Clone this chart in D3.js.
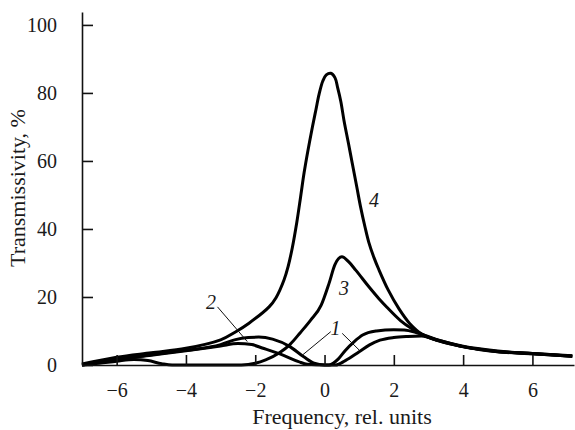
<!DOCTYPE html>
<html>
<head>
<meta charset="utf-8">
<script src="https://cdn.jsdelivr.net/npm/d3@7"></script>
<style>
  html, body { margin: 0; padding: 0; background: #fff; }
  svg { display: block; }
  text { font-family: "Liberation Serif", "Times New Roman", serif; fill: #1a1a1a; }
</style>
</head>
<body>
<svg id="chart" width="575" height="430"></svg>
<script>
// ---- data ----
const xTicks = [-6, -4, -2, 0, 2, 4, 6];
const yTicks = [0, 20, 40, 60, 80, 100];
const xLabel = "Frequency, rel. units";
const yLabel = "Transmissivity, %";

const curve1X = [-7, -6, -5, -4, -3, -2.6, -2.2, -1.9, -1.5, -1.0, -0.6, -0.3, 0, 0.32, 0.6, 1.0, 1.3, 1.6, 2.0, 2.4, 2.8, 3.3, 4.0, 5.0, 6.0, 7.15];
const curve1Y = [0, 1.7, 3.0, 4.3, 6.0, 7.4, 8.1, 8.2, 7.6, 5.4, 2.4, 0.5, 0, 0, 1.3, 3.9, 5.9, 7.3, 8.1, 8.4, 8.5, 7.2, 5.4, 4.0, 3.3, 2.6];

const curve2X = [-7, -6, -5, -4, -3, -2.5, -2.1, -1.8, -1.2, -0.75, -0.5, 0, 0.13, 0.4, 0.6, 0.85, 1.1, 1.5, 2.0, 2.3, 2.6, 2.9, 3.3, 4.0, 5.0, 6.0, 7.15];
const curve2Y = [0, 1.6, 2.9, 4.2, 5.6, 6.3, 6.0, 5.0, 2.9, 1.0, 0.2, 0, 0, 1.8, 4.3, 6.8, 8.8, 10.0, 10.4, 10.3, 9.7, 8.7, 7.3, 5.5, 4.1, 3.4, 2.7];

const curve3X = [-7, -6.5, -6, -5.5, -5.1, -4.7, -4.4, -2.4, -2.0, -1.7, -1.3, -1.0, -0.7, -0.4, -0.1, 0.13, 0.3, 0.5, 0.7, 0.9, 1.28, 1.57, 1.8, 2.2, 2.5, 2.85, 3.3, 4.0, 5.0, 6.0, 7.15];
const curve3Y = [0, 0.5, 1.1, 1.6, 1.3, 0.4, 0, 0, 0.5, 1.5, 3.6, 6.0, 9.5, 13.2, 17.5, 24, 29.5, 31.8, 30.3, 27.9, 23, 19.5, 17, 13, 10.8, 8.8, 7.1, 5.4, 3.9, 3.3, 2.6];

const curve4X = [-7, -6, -5, -4, -3, -2.56, -2.18, -1.6, -1.4, -1.17, -1.05, -0.93, -0.8, -0.69, -0.59, -0.48, -0.35, -0.25, -0.16, -0.05, 0.05, 0.18, 0.3, 0.38, 0.47, 0.56, 0.69, 0.8, 0.93, 1.04, 1.17, 1.28, 1.43, 1.57, 1.84, 2.15, 2.45, 2.82, 3.3, 3.97, 4.5, 5.0, 6.0, 7.15];
const curve4Y = [0.3, 2.3, 3.6, 4.9, 7.4, 9.8, 12.3, 17.1, 19.8, 25, 29, 34.5, 42, 49.5, 56.5, 63, 70, 75, 79.5, 83.5, 85.3, 85.8, 84.5, 81.5, 77.5, 72, 65.2, 59.3, 52.4, 46.5, 40.5, 36, 31.5, 28, 22, 16.5, 12.3, 9.0, 7.1, 5.4, 4.5, 3.9, 3.4, 2.6];

// curve labels (data coordinates) and their leader lines
const curveLabels = ["1", "2", "3", "4"];
const labelX = [0.32, -3.28, 0.56, 1.43];
const labelY = [10.8, 18.6, 22.7, 48.5];
const leaderFromX = [0.18, 0.51, -3.09];
const leaderFromY = [9.8, 9.3, 17.1];
const leaderToX = [-0.64, 1.0, -2.23];
const leaderToY = [2.9, 4.4, 6.9];

// ---- layout ----
const svg = d3.select("#chart");
const x = d3.scaleLinear().domain([-7, 7.2]).range([82, 574]);
const y = d3.scaleLinear().domain([0, 103.8]).range([365, 12]);

const curves = [
  { xs: curve1X, ys: curve1Y, interp: d3.curveMonotoneX },
  { xs: curve2X, ys: curve2Y, interp: d3.curveMonotoneX },
  { xs: curve3X, ys: curve3Y, interp: d3.curveMonotoneX },
  { xs: curve4X, ys: curve4Y, interp: d3.curveCatmullRom.alpha(0.5) }
];

svg.append("g").selectAll("path")
  .data(curves)
  .join("path")
  .attr("d", c => d3.line().x(d => x(d[0])).y(d => y(d[1])).curve(c.interp)(c.xs.map((v, i) => [v, c.ys[i]])))
  .attr("fill", "none")
  .attr("stroke", "#000")
  .attr("stroke-width", 3)
  .attr("stroke-linejoin", "round");

// axes
const xAxis = d3.axisBottom(x).tickValues(xTicks).tickSizeInner(-10).tickSizeOuter(0)
  .tickFormat(d => d < 0 ? "\u2212" + Math.abs(d) : String(d)).tickPadding(18);
const gx = svg.append("g").attr("transform", `translate(0,${y(0)})`).call(xAxis);
gx.select(".domain").attr("stroke", "#111").attr("stroke-width", 1.6);
gx.selectAll(".tick line").attr("stroke", "#111").attr("stroke-width", 1.6);
gx.selectAll(".tick text").attr("font-size", 20).attr("font-family", "Liberation Serif, serif").attr("fill", "#1a1a1a");

const yAxis = d3.axisLeft(y).tickValues(yTicks).tickSizeInner(-11).tickSizeOuter(0).tickPadding(25);
const gy = svg.append("g").attr("transform", `translate(${x(-7)},0)`).call(yAxis);
gy.select(".domain").attr("stroke", "#111").attr("stroke-width", 1.6);
gy.selectAll(".tick line").attr("stroke", "#111").attr("stroke-width", 1.6);
gy.selectAll(".tick text").attr("font-size", 20).attr("font-family", "Liberation Serif, serif").attr("fill", "#1a1a1a");

// axis titles
svg.append("text")
  .attr("x", 342).attr("y", 424)
  .attr("text-anchor", "middle")
  .attr("font-size", 22)
  .text(xLabel);

svg.append("text")
  .attr("transform", "translate(25,188) rotate(-90)")
  .attr("text-anchor", "middle")
  .attr("font-size", 22)
  .text(yLabel);

// leader lines
svg.append("g").selectAll("line")
  .data(leaderFromX.map((v, i) => i))
  .join("line")
  .attr("x1", i => x(leaderFromX[i])).attr("y1", i => y(leaderFromY[i]))
  .attr("x2", i => x(leaderToX[i])).attr("y2", i => y(leaderToY[i]))
  .attr("stroke", "#111").attr("stroke-width", 1);

// curve labels
svg.append("g").selectAll("text")
  .data(curveLabels)
  .join("text")
  .attr("x", (d, i) => x(labelX[i]))
  .attr("y", (d, i) => y(labelY[i]))
  .attr("dy", "0.35em")
  .attr("text-anchor", "middle")
  .attr("font-style", "italic")
  .attr("font-size", 20)
  .text(d => d);
</script>
</body>
</html>
